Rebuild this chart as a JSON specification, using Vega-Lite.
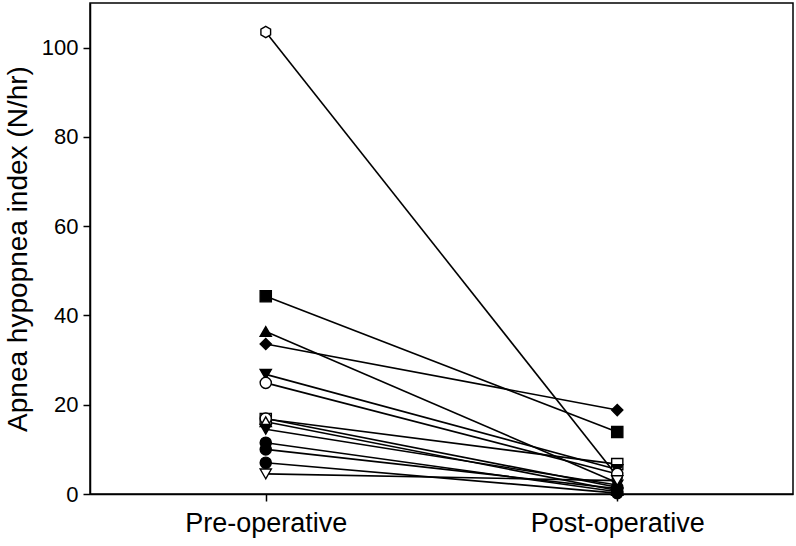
{
  "$schema": "https://vega.github.io/schema/vega-lite/v6.json",
  "width": 703,
  "height": 491,
  "autosize": {"type": "none"},
  "padding": {"left": 90, "top": 3, "right": 3, "bottom": 52},
  "background": "white",
  "config": {
    "view": {"stroke": "black", "strokeWidth": 1.5},
    "font": "Liberation Sans"
  },
  "data": {
    "values": [
      {"id": "A", "phase": "Pre-operative", "ahi": 103.5, "sym": "hexagon", "fillType": "open"},
      {"id": "A", "phase": "Post-operative", "ahi": 4.0, "sym": "hexagon", "fillType": "open"},
      {"id": "N", "phase": "Pre-operative", "ahi": 16.8, "sym": "square", "fillType": "open"},
      {"id": "N", "phase": "Post-operative", "ahi": 6.7, "sym": "square", "fillType": "open"},
      {"id": "B", "phase": "Pre-operative", "ahi": 44.3, "sym": "square", "fillType": "filled"},
      {"id": "B", "phase": "Post-operative", "ahi": 13.9, "sym": "square", "fillType": "filled"},
      {"id": "C", "phase": "Pre-operative", "ahi": 36.4, "sym": "triangle-up", "fillType": "filled"},
      {"id": "C", "phase": "Post-operative", "ahi": 2.5, "sym": "triangle-up", "fillType": "filled"},
      {"id": "D", "phase": "Pre-operative", "ahi": 33.6, "sym": "diamond", "fillType": "filled"},
      {"id": "D", "phase": "Post-operative", "ahi": 18.8, "sym": "diamond", "fillType": "filled"},
      {"id": "E", "phase": "Pre-operative", "ahi": 26.8, "sym": "triangle-down", "fillType": "filled"},
      {"id": "E", "phase": "Post-operative", "ahi": 5.5, "sym": "triangle-down", "fillType": "filled"},
      {"id": "F", "phase": "Pre-operative", "ahi": 24.9, "sym": "circle", "fillType": "open"},
      {"id": "F", "phase": "Post-operative", "ahi": 4.5, "sym": "circle", "fillType": "open"},
      {"id": "G", "phase": "Pre-operative", "ahi": 16.9, "sym": "circle", "fillType": "open"},
      {"id": "G", "phase": "Post-operative", "ahi": 1.5, "sym": "circle", "fillType": "open"},
      {"id": "H", "phase": "Pre-operative", "ahi": 16.2, "sym": "triangle-up", "fillType": "open"},
      {"id": "H", "phase": "Post-operative", "ahi": 0.8, "sym": "triangle-up", "fillType": "open"},
      {"id": "I", "phase": "Pre-operative", "ahi": 14.5, "sym": "triangle-down", "fillType": "filled"},
      {"id": "I", "phase": "Post-operative", "ahi": 2.0, "sym": "triangle-down", "fillType": "filled"},
      {"id": "J", "phase": "Pre-operative", "ahi": 11.5, "sym": "circle", "fillType": "filled"},
      {"id": "J", "phase": "Post-operative", "ahi": 0.5, "sym": "circle", "fillType": "filled"},
      {"id": "K", "phase": "Pre-operative", "ahi": 10.0, "sym": "circle", "fillType": "filled"},
      {"id": "K", "phase": "Post-operative", "ahi": 1.2, "sym": "circle", "fillType": "filled"},
      {"id": "L", "phase": "Pre-operative", "ahi": 7.0, "sym": "circle", "fillType": "filled"},
      {"id": "L", "phase": "Post-operative", "ahi": 0.2, "sym": "circle", "fillType": "filled"},
      {"id": "M", "phase": "Pre-operative", "ahi": 4.5, "sym": "triangle-down", "fillType": "open"},
      {"id": "M", "phase": "Post-operative", "ahi": 3.0, "sym": "triangle-down", "fillType": "open"}
    ]
  },
  "encoding": {
    "x": {
      "field": "phase",
      "type": "ordinal",
      "scale": {"type": "point", "domain": ["Pre-operative", "Post-operative"], "padding": 0.5},
      "axis": {
        "title": null,
        "labelAngle": 0,
        "labelFontSize": 27,
        "labelColor": "black",
        "labelPadding": 9,
        "tickSize": 7,
        "tickColor": "black",
        "tickWidth": 1.5,
        "domainColor": "black",
        "domainWidth": 1.5
      }
    },
    "y": {
      "field": "ahi",
      "type": "quantitative",
      "scale": {"domain": [0, 110], "nice": false},
      "axis": {
        "title": "Apnea hypopnea index (N/hr)",
        "titleFontSize": 28,
        "titleFontWeight": "normal",
        "titleColor": "black",
        "titlePadding": 9,
        "values": [0, 20, 40, 60, 80, 100],
        "labelFontSize": 22,
        "labelColor": "black",
        "labelPadding": 5,
        "tickSize": 7,
        "tickColor": "black",
        "tickWidth": 1.5,
        "domainColor": "black",
        "domainWidth": 1.5,
        "grid": false
      }
    }
  },
  "layer": [
    {
      "mark": {"type": "line", "color": "black", "strokeWidth": 1.6},
      "encoding": {"detail": {"field": "id"}}
    },
    {
      "mark": {"type": "point", "filled": true, "stroke": "black", "strokeWidth": 1.4, "size": 125, "opacity": 1},
      "encoding": {
        "shape": {
          "field": "sym",
          "type": "nominal",
          "scale": {
            "domain": ["circle", "square", "diamond", "triangle-up", "triangle-down", "hexagon"],
            "range": ["circle", "square", "diamond", "triangle-up", "triangle-down", "M0,-1L0.866,-0.5L0.866,0.5L0,1L-0.866,0.5L-0.866,-0.5Z"]
          },
          "legend": null
        },
        "fill": {
          "field": "fillType",
          "type": "nominal",
          "scale": {"domain": ["filled", "open"], "range": ["black", "white"]},
          "legend": null
        }
      }
    }
  ]
}
